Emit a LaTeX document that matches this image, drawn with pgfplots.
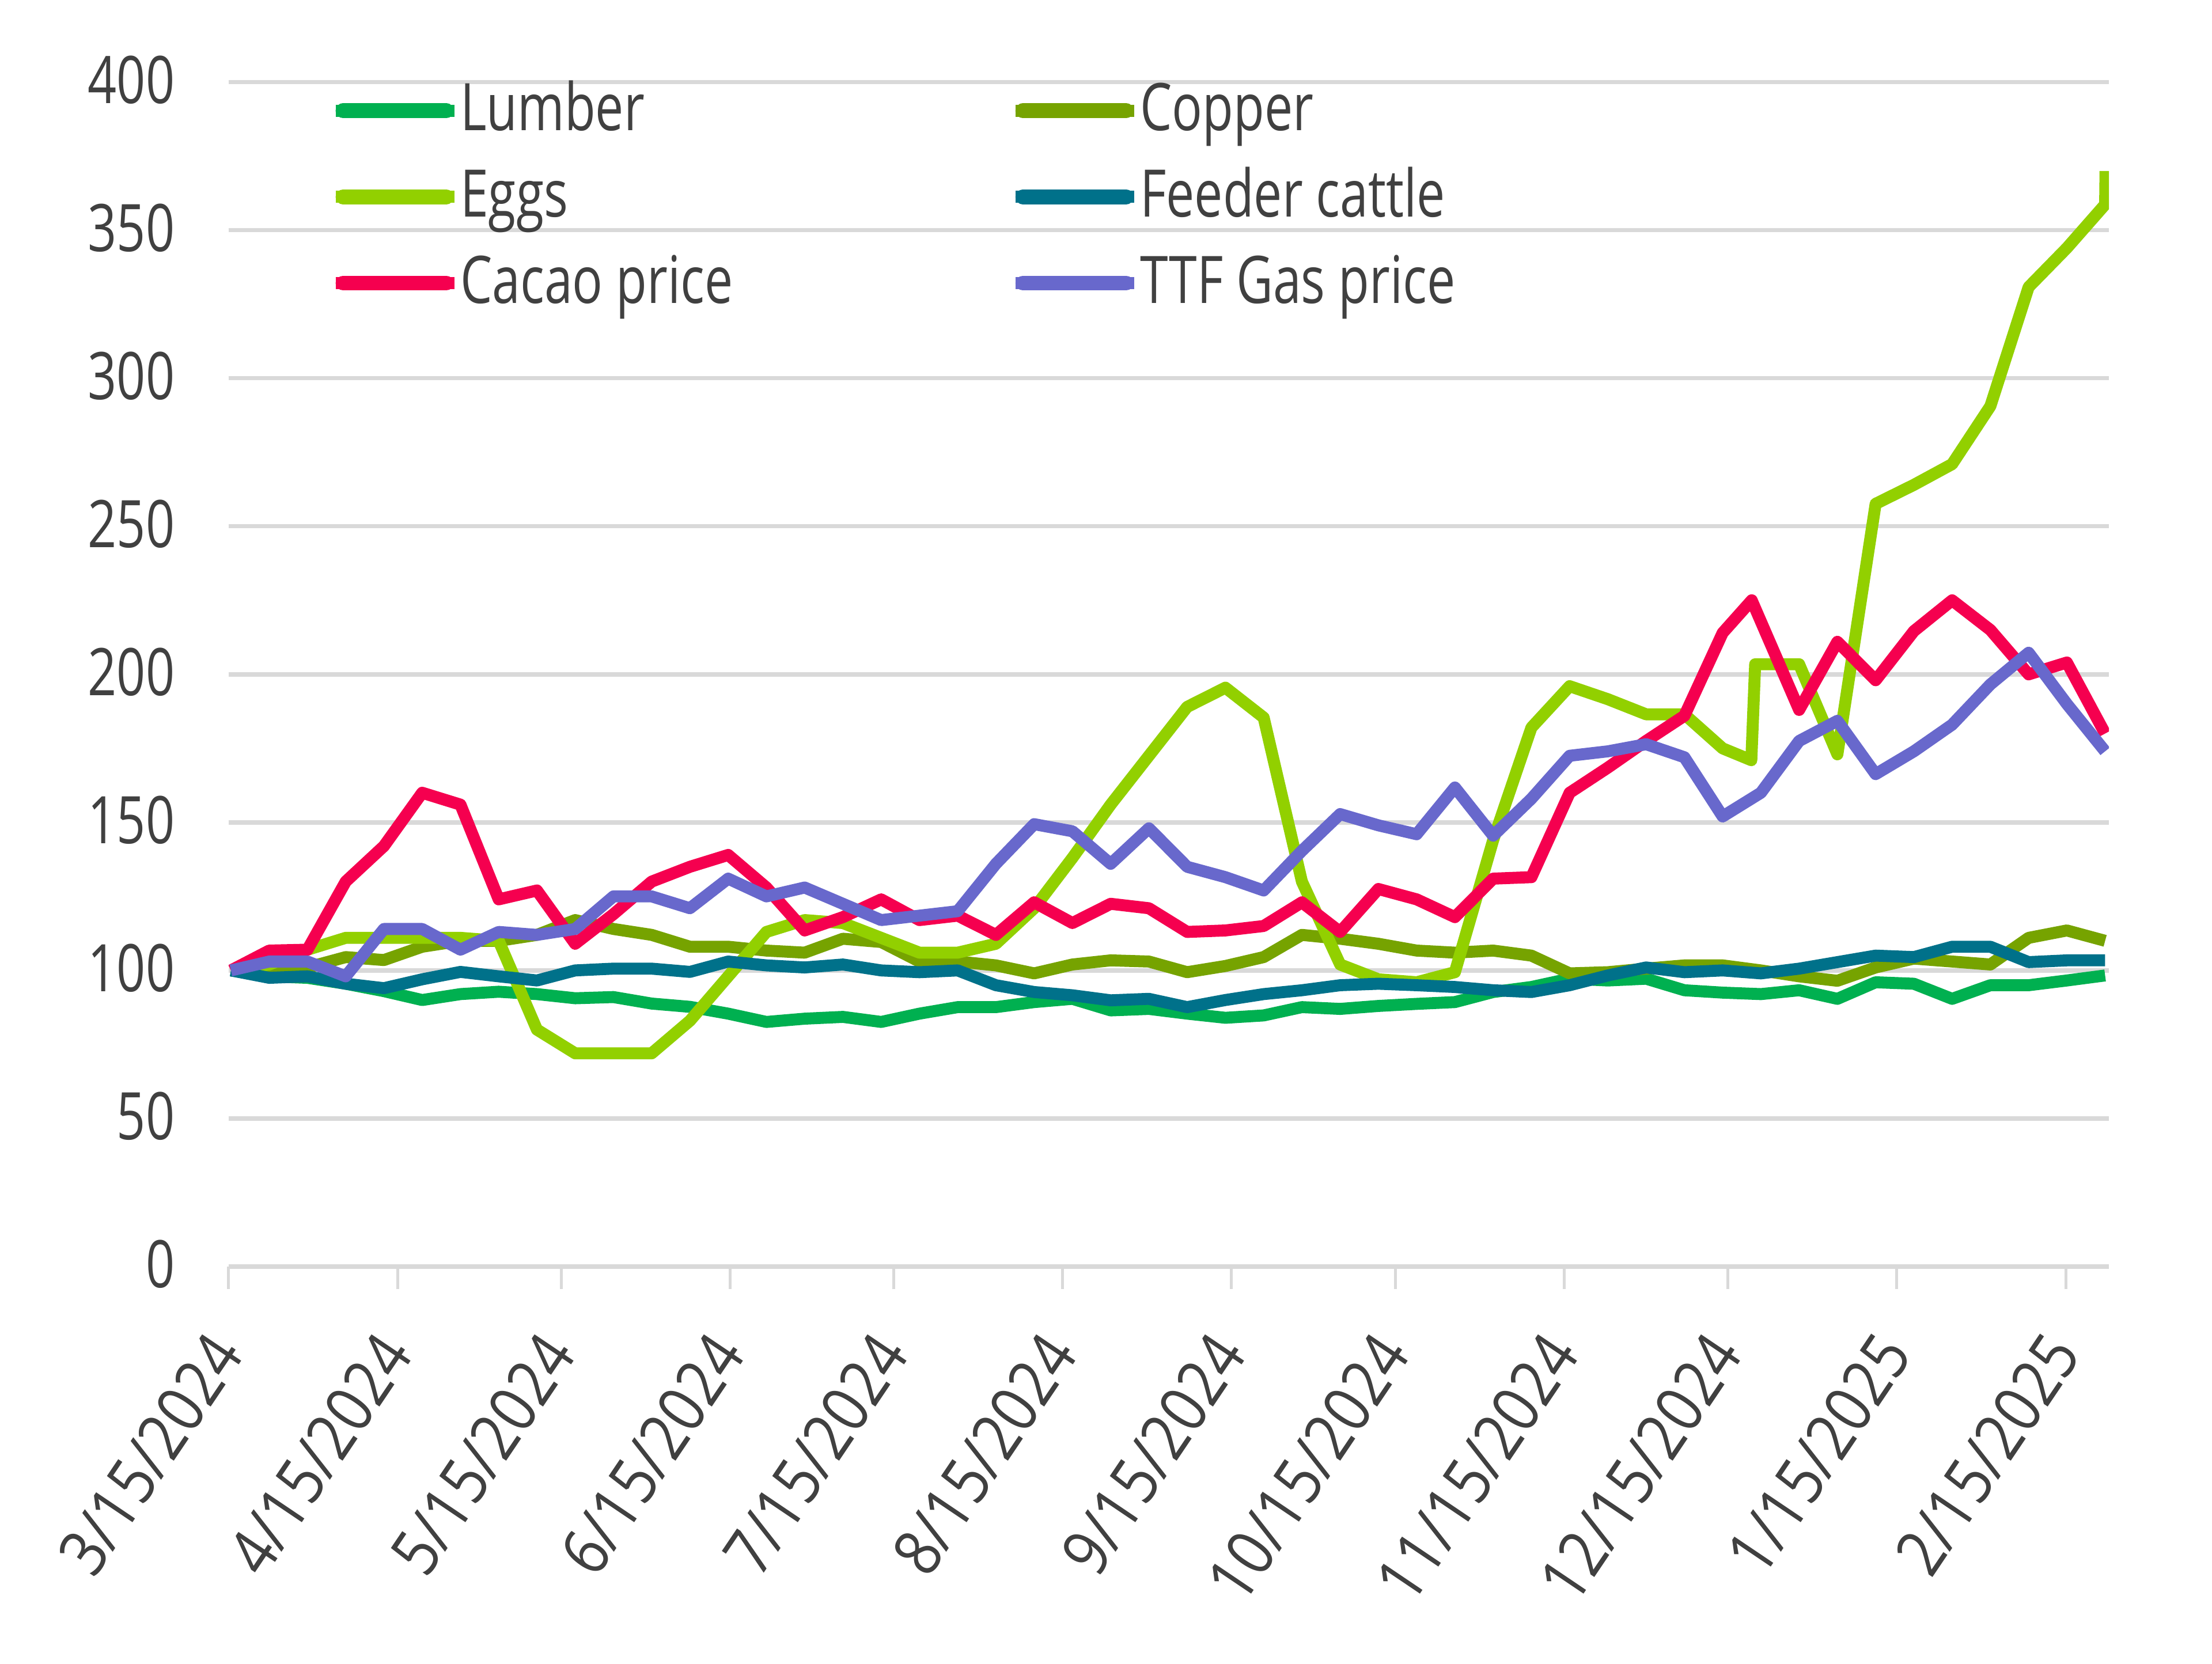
\documentclass[border=0pt]{standalone}
\usepackage{fontspec}
\setmainfont{Open Sans}[FakeStretch=0.77]
\newfontfamily\xlabfont{Open Sans}[FakeStretch=0.87]
\usepackage{pgfplots}
\pgfplotsset{compat=1.18}
\definecolor{clumber}{HTML}{00B050}
\definecolor{ccopper}{HTML}{76A300}
\definecolor{ceggs}{HTML}{92D000}
\definecolor{ccattle}{HTML}{00718A}
\definecolor{ccacao}{HTML}{F5004F}
\definecolor{cttf}{HTML}{6868CC}
\definecolor{gridgray}{HTML}{D9D9D9}
\definecolor{labelgray}{HTML}{404040}
\begin{document}
\begin{tikzpicture}
\useasboundingbox (-40.06pt,-69.63pt) rectangle (347.46pt,221.9pt);
\begin{axis}[
  at={(0,0)}, anchor=south west,
  scale only axis, width=329.4pt, height=207.5pt,
  xmin=-0.06, xmax=49.1, ymin=0, ymax=400,
  ytick={0,50,...,400},
  xtick={-0.06,4.358,8.633,13.05,17.33,21.74,26.16,30.44,34.86,39.13,43.55,47.97},
  xticklabels={3/15/2024,4/15/2024,5/15/2024,6/15/2024,7/15/2024,8/15/2024,9/15/2024,10/15/2024,11/15/2024,12/15/2024,1/15/2025,2/15/2025},
  axis line style={draw=none},
  ymajorgrids,
  major grid style={draw=gridgray, line width=0.75pt},
  ytick style={draw=none},
  xtick style={draw=gridgray, line width=0.5pt},
  xtick pos=bottom,
  tick align=outside, major tick length=4pt,
  /pgf/number format/assume math mode=true,
  tick label style={color=labelgray},
  yticklabel style={font=\fontsize{11.5}{13}\selectfont, anchor=east, inner sep=0pt, xshift=-5.25pt, yshift=0.4pt},
  xticklabel style={font=\xlabfont\fontsize{11.5}{13}\selectfont, xshift=-4pt, rotate=56, anchor=north east, inner sep=0pt},
  xticklabel shift=6.6pt,
  legend columns=2,
  legend cell align=left,
  legend style={at={(axis description cs:0.0537,1)}, anchor=north west, draw=none, fill=none,
    inner sep=0pt, outer sep=0pt, column sep=0pt, row sep=5.1pt,
    nodes={inner sep=0pt, text height=8.5pt, text depth=1.5pt, text=labelgray, font=\fontsize{11.5}{13}\selectfont}},
  legend image code/.code={\path (0pt,0pt) -- (20.8pt,0pt); \draw[#1, line width=2.6pt, line cap=round] (1.3pt,0pt) -- (19.4pt,0pt);},
  every axis plot/.append style={line width=2.1pt, line join=round, no markers},
]
% Lumber
\addplot[clumber] coordinates {(0,100)(1,98)(2,97.5)(3,95.5)(4,93)(5,90)(6,92)(7,92.8)(8,92)(9,90.6)(10,91)(11,88.8)(12,87.7)(13,85.4)(14,82.6)(15,83.7)(16,84.3)(17,82.6)(18,85.4)(19,87.6)(20,87.6)(21,89.3)(22,90.4)(23,86.5)(24,87)(25,85.4)(26,84)(27,84.8)(28,87.6)(29,87)(30,88)(31,88.7)(32,89.3)(33,92.7)(34,94.4)(35,97.2)(36,96.6)(37,97.2)(38,93.3)(39,92.5)(40,92)(41,93.3)(42,90.4)(43,96)(44,95.5)(45,90.4)(46,95)(47,95)(48,96.6)(49,98.3)};
\addlegendentry{\makebox[96.2pt][l]{Lumber}}
% Copper
\addplot[ccopper] coordinates {(0,100)(1,99)(2,101)(3,104.5)(4,103.5)(5,108)(6,110)(7,110)(8,112)(9,117)(10,114)(11,112)(12,108)(13,108)(14,106.7)(15,106)(16,110.7)(17,109.6)(18,103)(19,103)(20,101.7)(21,99)(22,102)(23,103.4)(24,103)(25,99.4)(26,101.5)(27,104.5)(28,112)(29,110.7)(30,109)(31,106.7)(32,106)(33,106.7)(34,105)(35,99)(36,99.4)(37,100.6)(38,101.7)(39,101.7)(40,100)(41,98)(42,96.5)(43,101)(44,104)(45,103)(46,102)(47,111)(48,113.5)(49,110)};
\addlegendentry{\makebox[96.2pt][l]{Copper}}
% Eggs
\addplot[ceggs] coordinates {(0,100)(1,102)(2,107)(3,111)(4,111)(5,111)(6,111)(7,110)(8,80)(9,72)(10,72)(11,72)(12,83)(13,98)(14,113)(15,117)(16,116)(17,111)(18,106)(19,106)(20,109)(21,121)(22,138)(23,156)(24,172.5)(25,189)(26,195.5)(27,185.4)(28,130)(29,102)(30,97)(31,96)(32,99.4)(33,144)(34,182)(35,196)(36,191.6)(37,186.5)(38,186.5)(39,175)(39.75,171)(39.85,203.4)(41,203.4)(42,173)(43,257.6)(44,264)(45,271)(46,290.6)(47,330.8)(48,344)(49,358.7)(49.01,370)};
\addlegendentry{\makebox[96.2pt][l]{Eggs}}
% Feeder cattle
\addplot[ccattle] coordinates {(0,100)(1,97.5)(2,98)(3,95.5)(4,94)(5,97)(6,99.5)(7,98)(8,96.6)(9,100)(10,100.6)(11,100.6)(12,99.5)(13,103)(14,101.7)(15,101)(16,102)(17,100)(18,99.4)(19,100)(20,95)(21,92.7)(22,91.6)(23,89.9)(24,90.4)(25,87.6)(26,90)(27,92)(28,93.3)(29,95)(30,95.5)(31,95)(32,94.4)(33,93.3)(34,92.7)(35,95)(36,98.3)(37,101)(38,99.4)(39,100)(40,99)(41,100.6)(42,102.8)(43,105)(44,104.5)(45,108)(46,108)(47,102.8)(48,103.4)(49,103.4)};
\addlegendentry{\makebox[96.2pt][l]{Feeder cattle}}
% Cacao
\addplot[ccacao] coordinates {(0,100)(1,106.7)(2,107)(3,130)(4,142)(5,160)(6,156)(7,124)(8,127)(9,109)(10,119)(11,130)(12,135)(13,139)(14,128)(15,113.5)(16,118)(17,124)(18,117)(19,118.5)(20,112)(21,123)(22,116)(23,122.5)(24,121)(25,113)(26,113.5)(27,115)(28,123)(29,113)(30,127.5)(31,124)(32,118)(33,131)(34,131.5)(35,160)(36,168.5)(37,177.5)(38,186)(39,214)(39.76,225)(41,188)(42,211)(43,198)(44,214.6)(45,225)(46,215)(47,200)(48,204)(49,180)};
\addlegendentry{\makebox[96.2pt][l]{Cacao price}}
% TTF Gas
\addplot[cttf] coordinates {(0,100)(1,103)(2,103)(3,98)(4,114)(5,114)(6,107)(7,113)(8,112)(9,114)(10,125)(11,125)(12,121)(13,131)(14,125)(15,128)(16,122.5)(17,117)(18,118.5)(19,120)(20,136)(21,149.4)(22,147)(23,136)(24,148)(25,135)(26,131.5)(27,127)(28,140.4)(29,152.8)(30,149)(31,146)(32,161.8)(33,145.5)(34,158)(35,172.5)(36,174)(37,176.4)(38,172)(39,152)(40,160)(41,177.5)(42,184.3)(43,166.3)(44,174)(45,183)(46,196.6)(47,207.3)(48,190)(49,174)};
\addlegendentry{\makebox[96.2pt][l]{TTF Gas price}}
\end{axis}
\end{tikzpicture}
\end{document}
